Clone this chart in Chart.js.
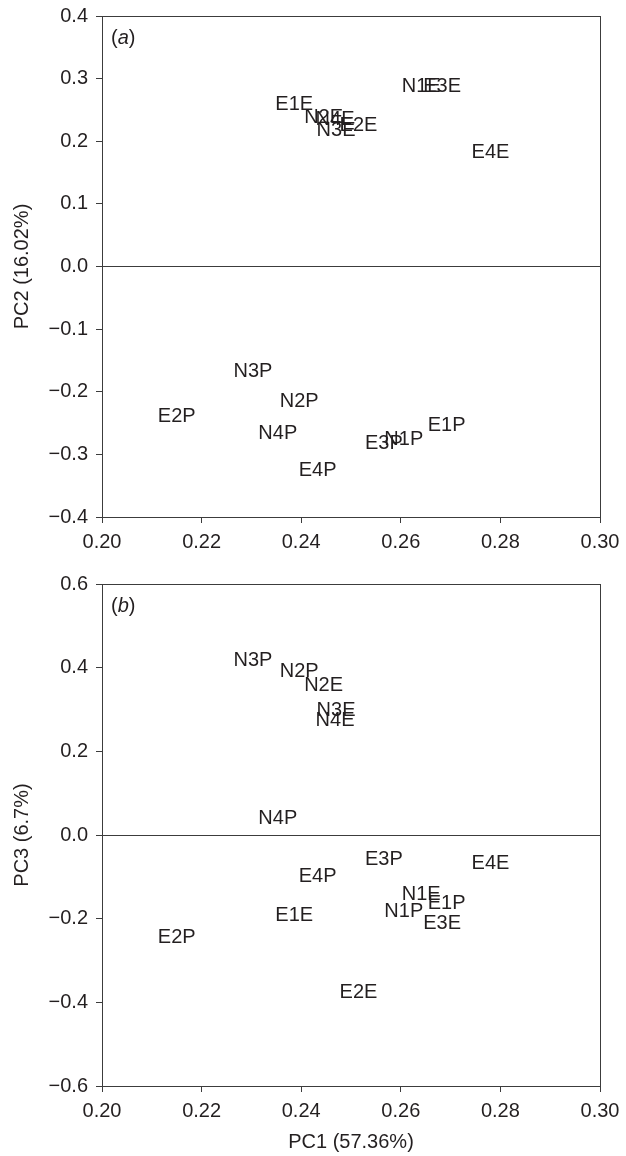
<!DOCTYPE html>
<html>
<head>
<meta charset="utf-8">
<script src="https://cdn.jsdelivr.net/npm/chart.js@4"></script>
<style>
  body { margin: 0; background: #fff; }
  .panel { position: absolute; left: 0; }
</style>
</head>
<body>
<div class="panel" style="top:0"><canvas id="chartA" width="626" height="570"></canvas></div>
<div class="panel" style="top:570px"><canvas id="chartB" width="626" height="586"></canvas></div>
<script>
// sample labels, same order in every array
const labels = ['N1E', 'N2E', 'N3E', 'N4E', 'E1E', 'E2E', 'E3E', 'E4E',
                'N1P', 'N2P', 'N3P', 'N4P', 'E1P', 'E2P', 'E3P', 'E4P'];
const pc1 = [0.2641, 0.2445, 0.2470, 0.2468, 0.2386, 0.2515, 0.2683, 0.2780,
             0.2606, 0.2396, 0.2303, 0.2353, 0.2692, 0.2150, 0.2566, 0.2433];
const pc2 = [0.288, 0.238, 0.217, 0.235, 0.258, 0.225, 0.288, 0.182,
             -0.277, -0.215, -0.167, -0.267, -0.254, -0.240, -0.282, -0.325];
const pc3 = [-0.141, 0.358, 0.297, 0.273, -0.192, -0.377, -0.212, -0.069,
             -0.182, 0.391, 0.417, 0.039, -0.164, -0.246, -0.058, -0.100];

const fontFamily = "'Liberation Sans', Arial, Helvetica, sans-serif";
const ink = '#231f20';
const lineCol = '#3c3c3c';

Chart.defaults.font.family = fontFamily;
Chart.defaults.font.size = 20;
Chart.defaults.color = ink;

function fmt(v, d) {
    if (Math.abs(v) < 1e-9) return (0).toFixed(d);
    return v < 0 ? '\u2212' + Math.abs(v).toFixed(d) : v.toFixed(d);
}

// draws each sample name centred on its point, plus frame and panel letter
const textPoints = {
    id: 'textPoints',
    afterDatasetsDraw(chart, args, opts) {
        const ctx = chart.ctx;
        const area = chart.chartArea;
        ctx.save();
        ctx.strokeStyle = lineCol;
        ctx.lineWidth = 1;
        ctx.strokeRect(area.left + 0.5, area.top + 0.5, area.right - area.left, area.bottom - area.top);

        ctx.fillStyle = ink;
        ctx.font = '20px ' + fontFamily;
        ctx.textAlign = 'center';
        ctx.textBaseline = 'middle';
        chart.getDatasetMeta(0).data.forEach(function (pt, i) {
            ctx.fillText(labels[i], pt.x, pt.y);
        });

        ctx.textAlign = 'left';
        let x = area.left + 9;
        const y = area.top + opts.letterY;
        ctx.fillText('(', x, y);
        x += ctx.measureText('(').width;
        ctx.font = 'italic 20px ' + fontFamily;
        ctx.fillText(opts.letter, x, y);
        x += ctx.measureText(opts.letter).width;
        ctx.font = '20px ' + fontFamily;
        ctx.fillText(')', x, y);
        ctx.restore();
    }
};

function makePanel(id, ys, cfg) {
    const points = pc1.map(function (v, i) {
        return { x: v, y: ys[i] };
    });
    return new Chart(document.getElementById(id), {
        type: 'scatter',
        data: {
            datasets: [{
                data: points,
                pointRadius: 0,
                pointHoverRadius: 0
            }]
        },
        options: {
            responsive: false,
            animation: false,
            events: [],
            layout: { padding: { top: cfg.padTop, right: 26, left: 0, bottom: 0 } },
            plugins: {
                legend: { display: false },
                tooltip: { enabled: false },
                textPoints: { letter: cfg.letter, letterY: 22 }
            },
            scales: {
                x: {
                    type: 'linear',
                    min: 0.2,
                    max: 0.3,
                    afterFit: function (s) {
                        s.height = cfg.xHeight;
                        s.paddingLeft = 0;
                        s.paddingRight = 0;
                    },
                    ticks: {
                        stepSize: 0.02,
                        padding: 7,
                        maxRotation: 0,
                        callback: function (v) { return fmt(v, 2); }
                    },
                    grid: { drawOnChartArea: false, tickLength: 6, tickColor: lineCol },
                    border: { color: lineCol },
                    title: {
                        display: cfg.xTitle !== '',
                        text: cfg.xTitle,
                        font: { size: 20 },
                        padding: { top: 0, bottom: 2 }
                    }
                },
                y: {
                    type: 'linear',
                    min: cfg.yMin,
                    max: cfg.yMax,
                    afterFit: function (s) {
                        s.width = 102;
                        s.paddingTop = 0;
                        s.paddingBottom = 0;
                    },
                    ticks: {
                        stepSize: cfg.yStep,
                        padding: 8,
                        callback: function (v) { return fmt(v, 1); }
                    },
                    grid: {
                        tickLength: 6,
                        tickColor: lineCol,
                        color: function (c) {
                            return c.tick && Math.abs(c.tick.value) < 1e-9 ? lineCol : 'rgba(0,0,0,0)';
                        }
                    },
                    border: { color: lineCol },
                    title: {
                        display: true,
                        text: cfg.yTitle,
                        font: { size: 20 },
                        padding: { top: 10, bottom: 0 }
                    }
                }
            }
        },
        plugins: [textPoints]
    });
}

makePanel('chartA', pc2, {
    padTop: 16, xHeight: 53, letter: 'a',
    yMin: -0.4, yMax: 0.4, yStep: 0.1,
    yTitle: 'PC2 (16.02%)', xTitle: ''
});
makePanel('chartB', pc3, {
    padTop: 14, xHeight: 70, letter: 'b',
    yMin: -0.6, yMax: 0.6, yStep: 0.2,
    yTitle: 'PC3 (6.7%)', xTitle: 'PC1 (57.36%)'
});
</script>
</body>
</html>
